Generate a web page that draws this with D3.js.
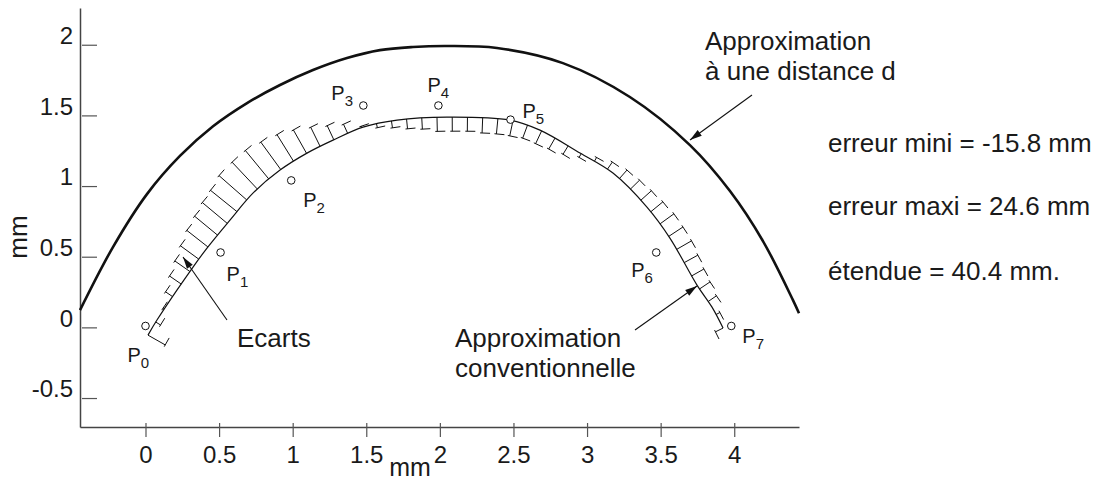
<!DOCTYPE html>
<html>
<head>
<meta charset="utf-8">
<script src="https://cdn.jsdelivr.net/npm/d3@7/dist/d3.min.js"></script>
<style>
body { margin: 0; background: #fff; }
text { font-family: "Liberation Sans", Arial, sans-serif; fill: #1a1a1a; }
</style>
</head>
<body>
<div></div>
<script>
// tick values
var xTicks = [0, 0.5, 1, 1.5, 2, 2.5, 3, 3.5, 4];
var yTicks = [-0.5, 0, 0.5, 1, 1.5, 2];

// approximation a une distance d (thick curve)
var offsetX = [-0.445, -0.221, 0.010, 0.234, 0.459, 0.690, 0.914, 1.138, 1.369, 1.593, 1.817, 2.048, 2.388, 2.836, 3.291, 3.699, 3.971, 4.195, 4.399, 4.44];
var offsetY = [0.122, 0.568, 0.943, 1.213, 1.423, 1.587, 1.715, 1.821, 1.906, 1.962, 1.984, 1.991, 1.977, 1.870, 1.630, 1.290, 0.965, 0.611, 0.193, 0.10];

// approximation conventionnelle (thin curve)
var convX = [0.017, 0.078, 0.323, 0.418, 0.574, 0.730, 0.914, 1.097, 1.274, 1.478, 1.709, 2.048, 2.476, 2.680, 2.952, 3.176, 3.407, 3.563, 3.747, 3.849, 3.924];
var convY = [-0.055, 0.052, 0.427, 0.561, 0.759, 0.950, 1.113, 1.233, 1.325, 1.417, 1.467, 1.488, 1.467, 1.396, 1.234, 1.092, 0.851, 0.632, 0.299, 0.143, -0.005];

// measured points P0..P7
var pointX = [0, 0.51, 0.99, 1.48, 1.99, 2.48, 3.47, 3.98];
var pointY = [0.01, 0.53, 1.04, 1.57, 1.57, 1.47, 0.53, 0.01];

// ecarts along the conventional curve (mm, + outward)
var ecarts = [-0.14, -0.04, 0.01, 0.06, 0.10, 0.13, 0.16, 0.19, 0.21, 0.23, 0.24, 0.26, 0.26, 0.26, 0.24, 0.22, 0.19, 0.15, 0.11, 0.07, 0.01,
	-0.03, -0.05, -0.07, -0.08, -0.10, -0.10, -0.10, -0.11, -0.11, -0.11, -0.10, -0.10, -0.09, -0.07, -0.03,
	0.03, 0.06, 0.08, 0.09, 0.10, 0.11, 0.12, 0.12, 0.12, 0.11, 0.10, 0.09, 0.07, 0.03, -0.06];

var svg = d3.select("div").append("svg")
	.attr("width", 1102)
	.attr("height", 481);

var x = d3.scaleLinear().domain([-0.445, 4.44]).range([80, 799]);
var y = d3.scaleLinear().domain([-0.705, 2.26]).range([427, 8]);

// arrow head
svg.append("defs").append("marker")
	.attr("id", "head")
	.attr("viewBox", "0 -5 12 10")
	.attr("refX", 12)
	.attr("refY", 0)
	.attr("markerUnits", "userSpaceOnUse")
	.attr("markerWidth", 13)
	.attr("markerHeight", 10)
	.attr("orient", "auto")
	.append("path")
	.attr("d", "M0,-3.5L12,0L0,3.5Z")
	.style("fill", "#111");

// axes
var fmt = function(d) { return String(d); };
var xAxis = svg.append("g")
	.attr("transform", "translate(0,427)")
	.call(d3.axisBottom(x).tickValues(xTicks).tickFormat(fmt).tickSizeInner(10).tickSizeOuter(0).tickPadding(9));
xAxis.selectAll(".tick line").attr("y1", -4);

var yAxis = svg.append("g")
	.attr("transform", "translate(80,0)")
	.call(d3.axisLeft(y).tickValues(yTicks).tickFormat(fmt).tickSizeInner(-17).tickSizeOuter(0).tickPadding(7));
yAxis.selectAll(".tick line").attr("x1", 2);
yAxis.selectAll(".tick text").attr("dy", "-0.05em");

svg.selectAll(".domain").attr("stroke", "#444").attr("stroke-width", 1.5);
svg.selectAll(".tick line").attr("stroke", "#555").attr("stroke-width", 1.2);
svg.selectAll(".tick text").style("font-size", "24px").style("fill", "#1a1a1a");

svg.append("text")
	.attr("x", 410).attr("y", 476)
	.attr("text-anchor", "middle")
	.style("font-size", "25px")
	.text("mm");
svg.append("text")
	.attr("transform", "translate(27,237) rotate(-90)")
	.attr("text-anchor", "middle")
	.style("font-size", "26px")
	.text("mm");

// curves
var curveLine = d3.line().curve(d3.curveCatmullRom.alpha(0.5));

svg.append("path")
	.attr("d", curveLine(offsetX.map(function(d, i) { return [x(d), y(offsetY[i])]; })))
	.style("fill", "none")
	.style("stroke", "#111")
	.style("stroke-width", 2.6);

var convPath = svg.append("path")
	.attr("d", curveLine(convX.map(function(d, i) { return [x(d), y(convY[i])]; })))
	.style("fill", "none")
	.style("stroke", "#111")
	.style("stroke-width", 1.2);

// ecarts hatches with caps
var node = convPath.node();
var total = node.getTotalLength();
var hatchGroup = svg.append("g").style("stroke", "#111").style("stroke-width", 1);
ecarts.forEach(function(e, i) {
	var s = total * i / (ecarts.length - 1);
	var p = node.getPointAtLength(s);
	var a = node.getPointAtLength(Math.max(0, s - 1.5));
	var b = node.getPointAtLength(Math.min(total, s + 1.5));
	var dx = b.x - a.x, dy = b.y - a.y, n = Math.hypot(dx, dy);
	dx /= n; dy /= n;
	var len = y(0) - y(e);
	var ex = p.x + dy * len, ey = p.y - dx * len;
	hatchGroup.append("line")
		.attr("x1", p.x).attr("y1", p.y)
		.attr("x2", ex).attr("y2", ey);
	hatchGroup.append("line")
		.attr("x1", ex - dx * 2).attr("y1", ey - dy * 2)
		.attr("x2", ex + dx * 8).attr("y2", ey + dy * 8);
});

// points
svg.selectAll("circle.pt")
	.data(pointX)
	.enter()
	.append("circle")
	.attr("class", "pt")
	.attr("cx", function(d) { return x(d); })
	.attr("cy", function(d, i) { return y(pointY[i]); })
	.attr("r", 3.8)
	.style("fill", "#fff")
	.style("stroke", "#111")
	.style("stroke-width", 1);

var labelDx = [-18, 6, 12, -32, -11, 12, -25, 11];
var labelDy = [36, 29, 27, -6, -14, -2, 25, 17];
var pLabels = svg.selectAll("text.pl")
	.data(pointX)
	.enter()
	.append("text")
	.attr("class", "pl")
	.attr("x", function(d, i) { return x(d) + labelDx[i]; })
	.attr("y", function(d, i) { return y(pointY[i]) + labelDy[i]; })
	.style("font-size", "20px");
pLabels.append("tspan").text("P");
pLabels.append("tspan").attr("dy", 6).style("font-size", "15px").text(function(d, i) { return i; });

// annotations
function arrow(x1, y1, x2, y2) {
	svg.append("line")
		.attr("x1", x1).attr("y1", y1)
		.attr("x2", x2).attr("y2", y2)
		.attr("marker-end", "url(#head)")
		.style("stroke", "#111")
		.style("stroke-width", 1.1);
}
arrow(227, 320, 183, 257);
arrow(635, 330, 697, 286);
arrow(752, 95, 690, 140);

function label(tx, ty, str) {
	svg.append("text").attr("x", tx).attr("y", ty).style("font-size", "26px").text(str);
}
label(237, 347, "Ecarts");
label(455, 347, "Approximation");
label(455, 377, "conventionnelle");
label(705, 50, "Approximation");
label(705, 80, "à une distance d");
label(828, 152, "erreur mini = -15.8 mm");
label(828, 215, "erreur maxi = 24.6 mm");
label(828, 280, "étendue = 40.4 mm.");
</script>
</body>
</html>
